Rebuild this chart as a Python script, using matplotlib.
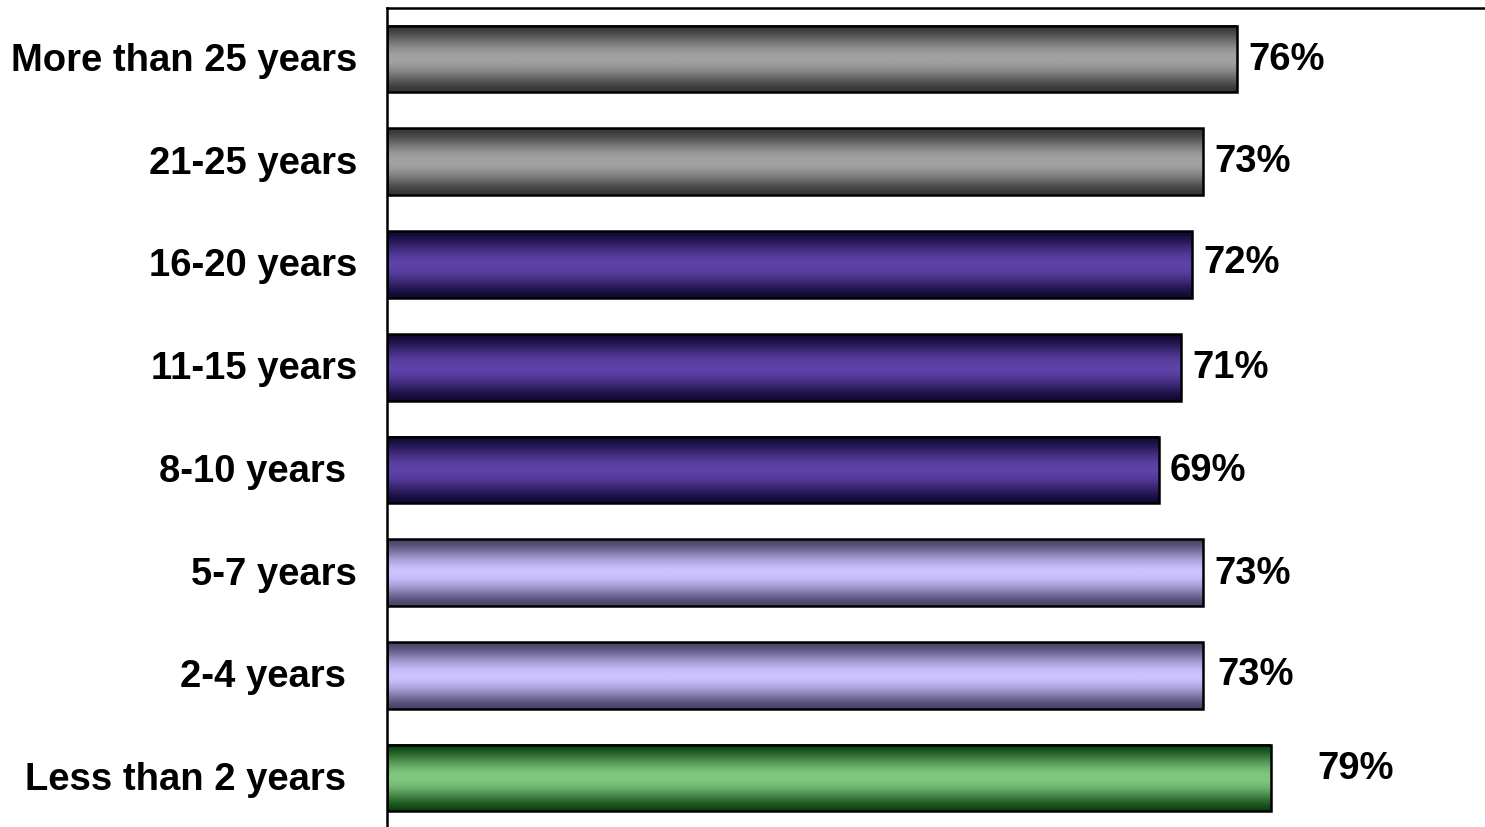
import matplotlib.pyplot as plt
import numpy as np
from matplotlib.colors import LinearSegmentedColormap

# tenure groups, listed top to bottom
categories = [
    "More than 25 years",
    "21-25 years",
    "16-20 years",
    "11-15 years",
    "8-10 years ",
    "5-7 years",
    "2-4 years ",
    "Less than 2 years ",
]
values = [76, 73, 72, 71, 69, 73, 73, 79]
groups = ["gray", "gray", "purple", "purple", "purple", "lavender", "lavender", "green"]

# (edge shade, centre highlight) for the cylinder look
palette = {
    "gray": ("#353535", "#a2a2a2"),
    "purple": ("#110935", "#5e42a8"),
    "lavender": ("#48446a", "#ccc2ff"),
    "green": ("#0b430e", "#80c880"),
}

plt.rcParams["font.family"] = ["Liberation Sans", "DejaVu Sans"]
plt.rcParams["font.weight"] = "bold"

fig = plt.figure(figsize=(14.85, 8.27), dpi=100)
ax = fig.add_axes([387 / 1485, 0.0, 1 - 387 / 1485, 1 - 8 / 827])

n = len(categories)
ypos = np.arange(n)[::-1]
bar_h = 0.65

bars = ax.barh(ypos, values, height=bar_h, facecolor="none",
               edgecolor="black", linewidth=1.8, zorder=3)

# vertical shading: dark at the rims, bright through the middle
t = np.linspace(0, 1, 256)
profile = np.sin(np.pi * t) ** 1.6
for bar, grp in zip(bars, groups):
    dark, light = palette[grp]
    cmap = LinearSegmentedColormap.from_list(grp, [dark, light])
    x0, y0 = bar.get_x(), bar.get_y()
    w, h = bar.get_width(), bar.get_height()
    ax.imshow(profile[:, None], extent=[x0, x0 + w, y0, y0 + h],
              aspect="auto", cmap=cmap, vmin=0, vmax=1, zorder=2,
              interpolation="bilinear")

# category labels, right-aligned just left of the axis
for y, lab in zip(ypos, categories):
    ax.annotate(lab, xy=(0, y), xycoords=("axes fraction", "data"),
                xytext=(-30, -2), textcoords="offset pixels",
                ha="right", va="center", fontsize=27.5, fontweight="bold")

# value labels next to each bar end
nudges = [(11, -1), (11, 0), (11, 1), (11, -1), (11, -1), (11, -1), (14, 0), (47, 9)]
for y, v, (dx, dy) in zip(ypos, values, nudges):
    ax.annotate(f"{v}%", xy=(v, y), xytext=(dx, dy), textcoords="offset pixels",
                ha="left", va="center", fontsize=27.5, fontweight="bold")

ax.set_xlim(0, (1485 - 387) / ((1237 - 387) / 76))
ax.set_ylim(-0.477, n - 1 + 0.497)
ax.set_xticks([])
ax.set_yticks([])
for side in ("right", "bottom"):
    ax.spines[side].set_visible(False)
for side in ("left", "top"):
    ax.spines[side].set_linewidth(1.8)

fig.savefig("out.png", dpi=100)
